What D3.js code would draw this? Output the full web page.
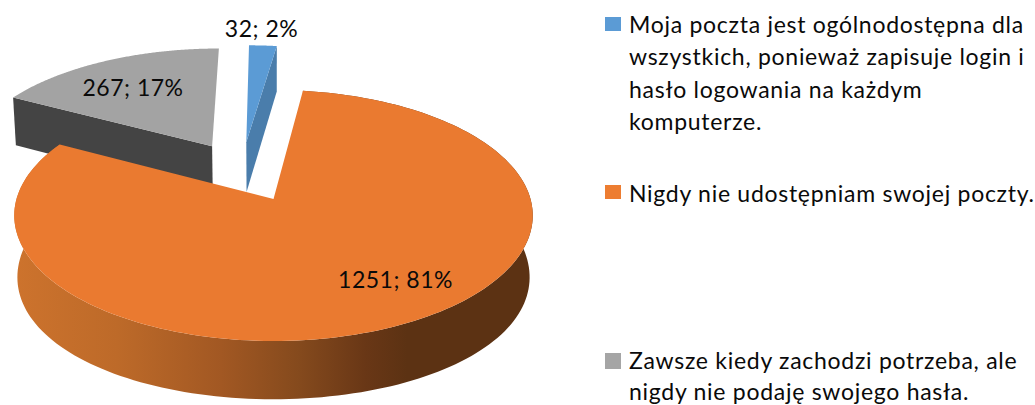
<!DOCTYPE html>
<html><head><meta charset="utf-8">
<script src="https://cdn.jsdelivr.net/npm/d3@7/dist/d3.min.js"></script>
<style>html,body{margin:0;padding:0;background:#fff;overflow:hidden}svg{display:block}text{font-family:Lato,"Noto Sans",sans-serif;fill:#0a0a0a}</style>
</head><body><svg id="c" width="1035" height="405"></svg>
<script>
const categories = ["Moja poczta jest ogólnodostępna dla wszystkich, ponieważ zapisuje login i hasło logowania na każdym komputerze.",
  "Nigdy nie udostępniam swojej poczty.",
  "Zawsze kiedy zachodzi potrzeba, ale nigdy nie podaję swojego hasła."];
const values = [32, 1251, 267];
const percents = [2, 81, 17];
const topColors = ["#5b9bd5", "#ea7a30", "#a3a3a3"];
const wallColors = ["#4a7dab", "#c8702c", "#444444"];
const swatchColors = ["#5b9bd5", "#ed7d31", "#a5a5a5"];
const legendLines = [
  ["Moja poczta jest ogólnodostępna dla","wszystkich, ponieważ zapisuje login i","hasło logowania na każdym","komputerze."],
  ["Nigdy nie udostępniam swojej poczty."],
  ["Zawsze kiedy zachodzi potrzeba, ale","nigdy nie podaję swojego hasła."]
];
const wallStops = [[0,"#cd732d"],[.2,"#bd6a29"],[.4,"#a25823"],[.55,"#854a1d"],[.68,"#693716"],[.76,"#5c3213"],[1,"#5c3213"]];

const svg = d3.select("#c");
const x0=273.5,y0=199,A=257,B=123.3,P=.1315,D=53,Q=.012,EX=.26,SIDE=9;
const pie = d3.pie().sort(null).value(d=>d);
const arcs = pie(values);
const mid = d=>(d.startAngle+d.endAngle)/2;
const refMid = mid(arcs[1]);
function proj(u,v,z){const w=1+P*v+Q*z;return [x0+u*A/w, y0+(z*D-v*B)/w];}
function offs(d){return [EX*(Math.sin(mid(d))-Math.sin(refMid)), EX*(Math.cos(mid(d))-Math.cos(refMid))];}
function rimPoints(d,z,side=0){
  const [ou,ov]=offs(d), a=d3.range(0,181).map(i=>d.startAngle+(d.endAngle-d.startAngle)*i/180);
  return a.map(t=>{const p=proj(ou+Math.sin(t),ov+Math.cos(t),z);p[1]+=side*Math.sin(t)**2;return p;});
}
const line=d3.line();
const apex=(d,z)=>{const [ou,ov]=offs(d);return proj(ou,ov,z);};
const topPath=d=>line([apex(d,0),...rimPoints(d,0)])+"Z";
const outerWall=d=>line([...rimPoints(d,0),...rimPoints(d,1,SIDE).reverse()])+"Z";
const cutWall=(d,t)=>{const[ou,ov]=offs(d);const r=z=>proj(ou+Math.sin(t),ov+Math.cos(t),z);return line([apex(d,0),r(0),r(1),apex(d,1)])+"Z";};

const defs=svg.append("defs");
const g=defs.append("linearGradient").attr("id","wall").attr("gradientUnits","userSpaceOnUse")
  .attr("x1",14).attr("x2",531).attr("y1",0).attr("y2",0);
g.selectAll("stop").data(wallStops).join("stop").attr("offset",d=>d[0]).attr("stop-color",d=>d[1]);

const [blue,orange,gray]=arcs;
const pie3d=svg.append("g");
pie3d.append("path").attr("d",cutWall(gray,gray.startAngle)).attr("fill",wallColors[2]);
pie3d.append("path").attr("d",topPath(gray)).attr("fill",topColors[2]);
const blueG=pie3d.append("g").attr("transform","translate(-2.5,0)");
blueG.append("path").attr("d",cutWall(blue,blue.endAngle)).attr("fill",wallColors[0]);
blueG.append("path").attr("d",topPath(blue)).attr("fill",topColors[0]);
pie3d.append("path").attr("d",outerWall(orange)).attr("fill","url(#wall)");
pie3d.append("path").attr("d",topPath(orange)).attr("fill",topColors[1]);

const labelPos=[[261.5,37],[395.5,288],[133,96]];
svg.selectAll("text.lab").data(values).join("text").attr("class","lab")
  .attr("x",(d,i)=>labelPos[i][0]).attr("y",(d,i)=>labelPos[i][1]).attr("text-anchor","middle")
  .attr("font-size",23).attr("letter-spacing",.5).text((d,i)=>d+"; "+percents[i]+"%");

const lineH=[32.3,32,30.5], startY=[33,202,369], lx=629;
const swatchY=[17,185,353], swatchH=[14,14,16];
legendLines.forEach((ls,i)=>{
  svg.append("rect").attr("x",605).attr("y",swatchY[i]).attr("width",16).attr("height",swatchH[i]).attr("fill",swatchColors[i]);
  ls.forEach((t,j)=>svg.append("text").attr("class","leg").attr("x",lx).attr("y",startY[i]+j*lineH[i]).attr("font-size",23).attr("letter-spacing",.72).text(t));
});
</script></body></html>
